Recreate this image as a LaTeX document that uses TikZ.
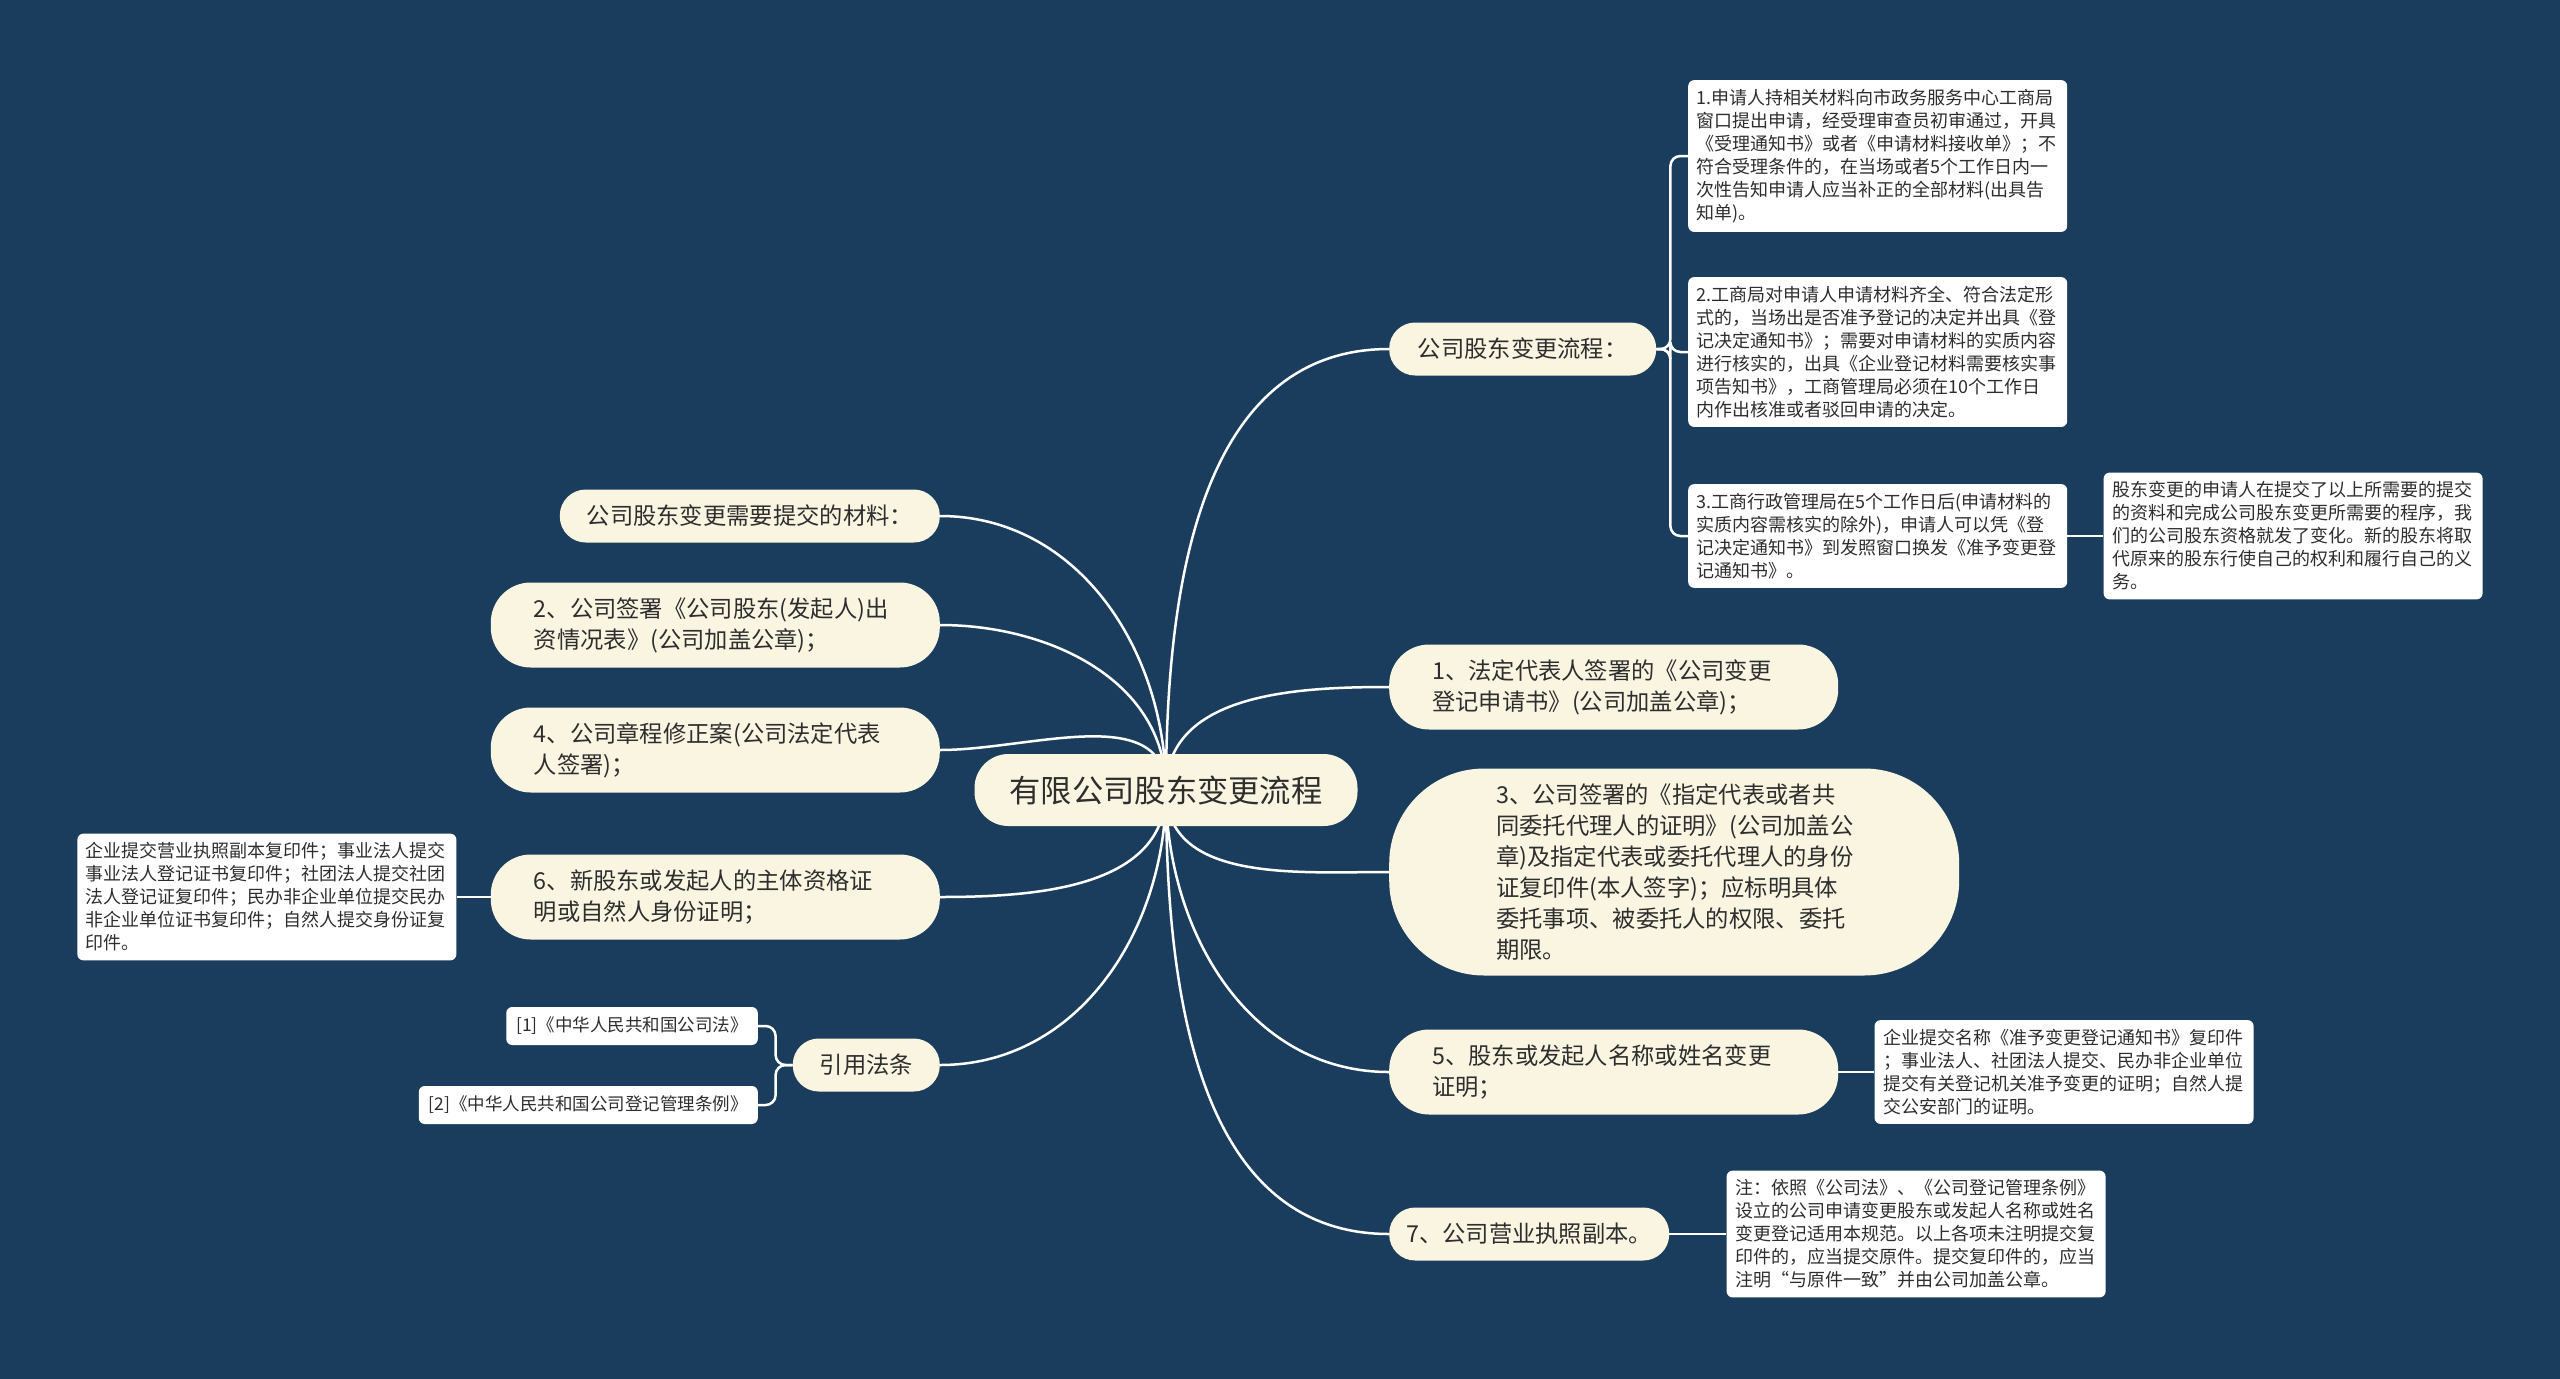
\documentclass[tikz,border=0pt]{standalone}
\usepackage{fontspec}
\newfontfamily\cjk{Noto Sans CJK SC}
\usetikzlibrary{positioning}
\definecolor{mapbg}{HTML}{1B3D5D}
\definecolor{topicbg}{HTML}{FAF5E1}
\definecolor{notebg}{HTML}{FFFFFF}
\definecolor{inktext}{HTML}{2E2E2E}
\pgfdeclarelayer{backdrop}
\pgfdeclarelayer{links}
\pgfsetlayers{backdrop,links,main}

\tikzset{
  root/.style={fill=topicbg, text=inktext, font=\cjk\fontsize{31.3}{36}\selectfont, rounded corners=34pt, minimum width=383pt, minimum height=72pt},
  topic/.style={fill=topicbg, text=inktext, font=\cjk\fontsize{23.3}{31}\selectfont, align=left, rounded corners=26pt, minimum height=53pt, inner xsep=0pt},
  topic2/.style={topic, rounded corners=40pt, text width=363pt, inner xsep=43pt, minimum height=85pt},
  note/.style={fill=notebg, text=inktext, font=\cjk\fontsize{18}{23}\selectfont, align=left, rounded corners=6pt, text width=362pt, inner xsep=8.5pt, inner ysep=9pt},
  cite/.style={fill=notebg, text=inktext, font=\cjk\fontsize{17.5}{23}\selectfont, rounded corners=6pt, minimum height=38pt, inner xsep=10pt},
  link/.style={white, line width=2.5pt}
}

\begin{document}
\begin{tikzpicture}[x=1pt,y=-1pt]
  \useasboundingbox (0,0) rectangle (2560,1379);
  \begin{pgfonlayer}{backdrop}
    \fill[mapbg] (0,0) rectangle (2560,1379);
  \end{pgfonlayer}

  \node[root] (root) at (1166,790) {有限公司股东变更流程};

  \node[topic, minimum width=267pt, anchor=west] (flow) at (1389,349) {公司股东变更流程：};
  \node[topic2, anchor=west] (m1) at (1389,687) {1、法定代表人签署的《公司变更\\登记申请书》(公司加盖公章)；};
  \node[topic, text width=356pt, inner xsep=107pt, minimum height=207pt, rounded corners=95pt, anchor=west] (m3) at (1389,872)
    {3、公司签署的《指定代表或者共\\同委托代理人的证明》(公司加盖公\\章)及指定代表或委托代理人的身份\\证复印件(本人签字)；应标明具体\\委托事项、被委托人的权限、委托\\期限。};
  \node[topic2, anchor=west] (m5) at (1389,1072) {5、股东或发起人名称或姓名变更\\证明；};
  \node[topic, minimum width=280pt, anchor=west] (m7) at (1389,1234) {7、公司营业执照副本。};

  \node[topic, minimum width=380pt, anchor=east] (need) at (940,516) {公司股东变更需要提交的材料：};
  \node[topic2, anchor=east] (m2) at (940,625) {2、公司签署《公司股东(发起人)出\\资情况表》(公司加盖公章)；};
  \node[topic2, anchor=east] (m4) at (940,750) {4、公司章程修正案(公司法定代表\\人签署)；};
  \node[topic2, anchor=east] (m6) at (940,897) {6、新股东或发起人的主体资格证\\明或自然人身份证明；};
  \node[topic, minimum width=147pt, anchor=east] (law) at (940,1065) {引用法条};

  \node[note, anchor=west] (s1) at (1688,156)
    {1.申请人持相关材料向市政务服务中心工商局\\窗口提出申请，经受理审查员初审通过，开具\\《受理通知书》或者《申请材料接收单》；不\\符合受理条件的，在当场或者5个工作日内一\\次性告知申请人应当补正的全部材料(出具告\\知单)。};
  \node[note, anchor=west] (s2) at (1688,352)
    {2.工商局对申请人申请材料齐全、符合法定形\\式的，当场出是否准予登记的决定并出具《登\\记决定通知书》；需要对申请材料的实质内容\\进行核实的，出具《企业登记材料需要核实事\\项告知书》，工商管理局必须在10个工作日\\内作出核准或者驳回申请的决定。};
  \node[note, anchor=west] (s3) at (1688,536)
    {3.工商行政管理局在5个工作日后(申请材料的\\实质内容需核实的除外)，申请人可以凭《登\\记决定通知书》到发照窗口换发《准予变更登\\记通知书》。};
  \node[note, right=36pt of s3] (s3note)
    {股东变更的申请人在提交了以上所需要的提交\\的资料和完成公司股东变更所需要的程序，我\\们的公司股东资格就发了变化。新的股东将取\\代原来的股东行使自己的权利和履行自己的义\\务。};
  \node[note, right=36pt of m5] (m5note)
    {企业提交名称《准予变更登记通知书》复印件\\；事业法人、社团法人提交、民办非企业单位\\提交有关登记机关准予变更的证明；自然人提\\交公安部门的证明。};
  \node[note, right=57pt of m7] (m7note)
    {注：依照《公司法》、《公司登记管理条例》\\设立的公司申请变更股东或发起人名称或姓名\\变更登记适用本规范。以上各项未注明提交复\\印件的，应当提交原件。提交复印件的，应当\\注明“与原件一致”并由公司加盖公章。};
  \node[note, left=34pt of m6] (m6note)
    {企业提交营业执照副本复印件；事业法人提交\\事业法人登记证书复印件；社团法人提交社团\\法人登记证复印件；民办非企业单位提交民办\\非企业单位证书复印件；自然人提交身份证复\\印件。};
  \node[cite, anchor=east] (c1) at (758,1026) {[1]《中华人民共和国公司法》};
  \node[cite, anchor=east] (c2) at (758,1105) {[2]《中华人民共和国公司登记管理条例》};

  \begin{pgfonlayer}{links}
    \path[link]
    (root.center) edge [out=90, in=180] (flow.west)
                  edge [out=90, in=180] (m1.west)
                  edge [out=-90, in=180] (m3.west)
                  edge [out=-90, in=180] (m5.west)
                  edge [out=-90, in=180] (m7.west)
                  edge [out=90, in=0] (need.east)
                  edge [out=90, in=0] (m2.east)
                  edge [out=90, in=0] (m4.east)
                  edge [out=-90, in=0] (m6.east)
                  edge [out=-90, in=0] (law.east);
    \draw[link, rounded corners=10pt] (flow.east) -- ++(14,0) |- (s1.west);
    \draw[link, rounded corners=10pt] (flow.east) -- ++(14,0) |- (s2.west);
    \draw[link, rounded corners=10pt] (flow.east) -- ++(14,0) |- (s3.west);
    \draw[link, rounded corners=10pt] (law.west) -- ++(-17,0) |- (c1.east);
    \draw[link, rounded corners=10pt] (law.west) -- ++(-17,0) |- (c2.east);
    \draw[link] (s3.east) -- (s3note.west);
    \draw[link] (m5.east) -- (m5note.west);
    \draw[link] (m7.east) -- (m7note.west);
    \draw[link] (m6.west) -- (m6note.east);
  \end{pgfonlayer}
\end{tikzpicture}
\end{document}
